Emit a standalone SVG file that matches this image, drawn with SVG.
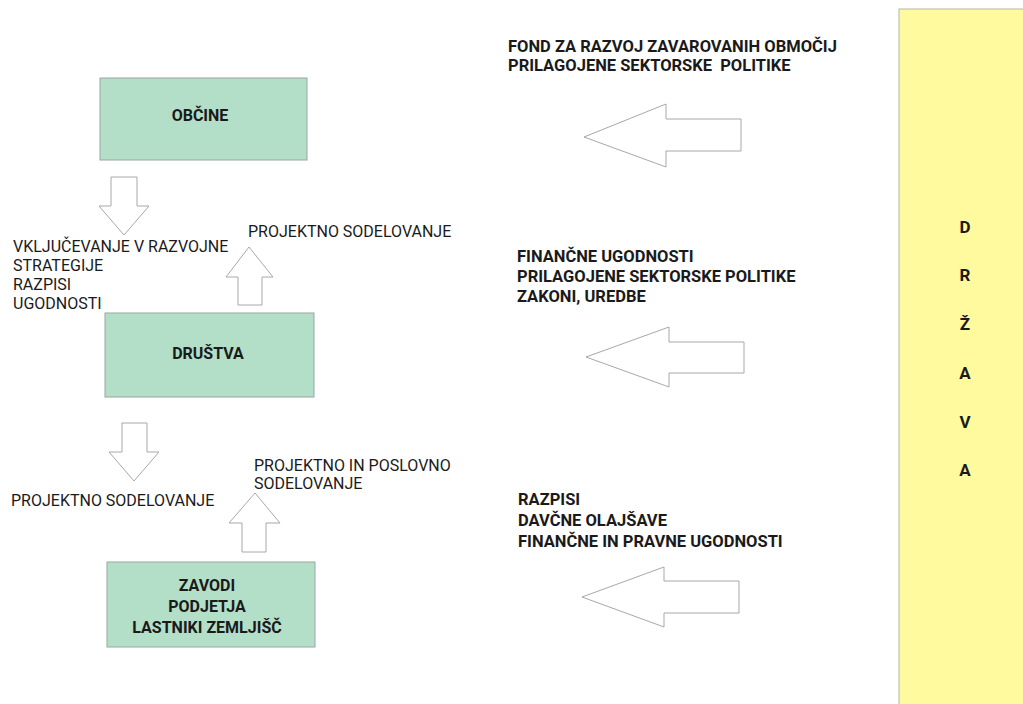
<svg xmlns="http://www.w3.org/2000/svg" width="1023" height="704" viewBox="0 0 1023 704">
<style>
.box{fill:#b3dec7;stroke:#9aa59f;stroke-width:1}
.arr{fill:#ffffff;stroke:#a8a8a8;stroke-width:1;stroke-linejoin:miter}
.t{font-family:Roboto,"Liberation Sans",Arial,sans-serif;font-size:16px;fill:#1a1a1a}
.b{font-weight:bold;font-size:16px}
.r{font-size:16.5px}
.d{font-size:17px}
.c{text-anchor:middle}
</style>
<rect width="1023" height="704" fill="#ffffff"/>
<g id="drzava">
<rect x="899" y="9" width="130" height="700" fill="#fffa9d" stroke="#b8b59a" stroke-width="1"/>
<text class="t b d c" x="965" y="233">D</text>
<text class="t b d c" x="965" y="281">R</text>
<text class="t b d c" x="965" y="330">Ž</text>
<text class="t b d c" x="965" y="379">A</text>
<text class="t b d c" x="965" y="428">V</text>
<text class="t b d c" x="965" y="476">A</text>
</g>
<g id="obcine">
<rect class="box" x="100" y="78" width="207" height="82"/>
<text class="t b c" x="200" y="121">OBČINE</text>
</g>
<g id="drustva">
<rect class="box" x="105" y="313" width="209" height="84"/>
<text class="t b c" x="208" y="359">DRUŠTVA</text>
</g>
<g id="zavodi">
<rect class="box" x="107" y="562" width="208" height="85"/>
<text class="t b c" x="207" y="591">ZAVODI</text>
<text class="t b c" x="207" y="612">PODJETJA</text>
<text class="t b c" x="207" y="633">LASTNIKI ZEMLJIŠČ</text>
</g>
<g id="connectors">
<polygon class="arr" points="111,177 137,177 137,206 149,206 124,235 99,206 111,206"/>
<polygon class="arr" points="238,305 262,305 262,277 273,277 249,247 226,277 238,277"/>
<polygon class="arr" points="122,423 147,423 147,452 159,452 134,481 109,452 122,452"/>
<polygon class="arr" points="242,552 266,552 266,523 280,523 255,493 229,523 242,523"/>
<polygon class="arr" points="741,119 741,151 666,151 666,167 584,137 666,104 666,119"/>
<polygon class="arr" points="744,342 744,373 669,373 669,387 586,357 669,327 669,342"/>
<polygon class="arr" points="739,581 739,613 664,613 664,627 582,597 664,567 664,581"/>
</g>
<g id="labels">
<text class="t" x="13" y="252">VKLJUČEVANJE V RAZVOJNE</text>
<text class="t" x="13" y="271">STRATEGIJE</text>
<text class="t" x="13" y="290">RAZPISI</text>
<text class="t" x="13" y="309">UGODNOSTI</text>
<text class="t" x="248" y="237">PROJEKTNO SODELOVANJE</text>
<text class="t" x="11" y="506">PROJEKTNO SODELOVANJE</text>
<text class="t" x="254" y="471">PROJEKTNO IN POSLOVNO</text>
<text class="t" x="254" y="489">SODELOVANJE</text>
<text class="t b r" x="508" y="52">FOND ZA RAZVOJ ZAVAROVANIH OBMOČIJ</text>
<text class="t b r" x="508" y="71" xml:space="preserve">PRILAGOJENE SEKTORSKE  POLITIKE</text>
<text class="t b r" x="517" y="262">FINANČNE UGODNOSTI</text>
<text class="t b r" x="517" y="282">PRILAGOJENE SEKTORSKE POLITIKE</text>
<text class="t b r" x="517" y="302">ZAKONI, UREDBE</text>
<text class="t b r" x="518" y="505">RAZPISI</text>
<text class="t b r" x="518" y="526">DAVČNE OLAJŠAVE</text>
<text class="t b r" x="518" y="547">FINANČNE IN PRAVNE UGODNOSTI</text>
</g>
</svg>
